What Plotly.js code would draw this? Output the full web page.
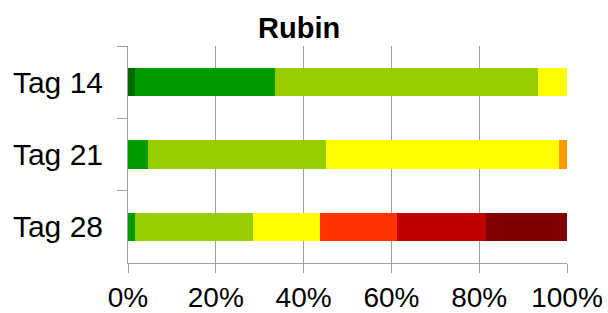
<!DOCTYPE html>
<html>
<head>
<meta charset="utf-8">
<script src="https://cdn.plot.ly/plotly-3.0.1.min.js"></script>
<style>html,body{margin:0;padding:0;background:#fff;}#chart{width:608px;height:313px;}</style>
</head>
<body>
<div id="chart"></div>
<script>
const categories = ["Tag 14", "Tag 21", "Tag 28"];
const seriesNames = ["s1", "s2", "s3", "s4", "s5", "s6", "s7", "s8"];
const s1 = [1.7, 0, 0];
const s2 = [31.8, 4.6, 1.7];
const s3 = [59.9, 40.6, 26.8];
const s4 = [6.6, 53.0, 15.2];
const s5 = [0, 1.8, 0];
const s6 = [0, 0, 17.6];
const s7 = [0, 0, 20.3];
const s8 = [0, 0, 18.4];
const colors = ["#006600", "#009900", "#99CC00", "#FFFF00", "#FF9900", "#FF3300", "#C00000", "#800000"];
const xTicks = [0, 20, 40, 60, 80, 100];
const xTickText = ["0%", "20%", "40%", "60%", "80%", "100%"];

const values = [s1, s2, s3, s4, s5, s6, s7, s8];
const data = values.map((v, i) => ({
  type: "bar",
  orientation: "h",
  name: seriesNames[i],
  y: categories,
  x: v,
  marker: {color: colors[i], line: {width: 0}},
  hoverinfo: "x+y"
}));

const layout = {
  width: 608, height: 313,
  margin: {l: 128, r: 41, t: 46, b: 50},
  paper_bgcolor: "#fff", plot_bgcolor: "#fff",
  barmode: "stack",
  bargap: 0.61,
  showlegend: false,
  font: {family: "Liberation Sans, Arial, sans-serif", color: "#000"},
  title: {
    text: "<b>Rubin</b>",
    font: {size: 29, family: "Liberation Sans, Arial, sans-serif", color: "#000"},
    xref: "container", x: 0.492, xanchor: "center",
    yref: "container", y: 0.912, yanchor: "middle"
  },
  xaxis: {
    range: [0, 100],
    tickvals: xTicks, ticktext: xTickText,
    showgrid: true, gridcolor: "#a0a0a0", gridwidth: 1,
    showline: true, linecolor: "#a0a0a0", linewidth: 1,
    ticks: "outside", ticklen: 9, tickcolor: "#a0a0a0",
    tickfont: {size: 28, color: "#000"},
    zeroline: false, fixedrange: true
  },
  yaxis: {
    type: "category",
    categoryorder: "array", categoryarray: categories,
    range: [2.5, -0.5],
    showgrid: false,
    showline: true, linecolor: "#a0a0a0", linewidth: 1,
    ticks: "outside", ticklen: 10, tickcolor: "#a0a0a0",
    tickson: "boundaries",
    ticklabelstandoff: 18,
    tickfont: {size: 30, color: "#000"},
    zeroline: false, fixedrange: true
  }
};

Plotly.newPlot("chart", data, layout, {displayModeBar: false, staticPlot: true});
</script>
</body>
</html>
